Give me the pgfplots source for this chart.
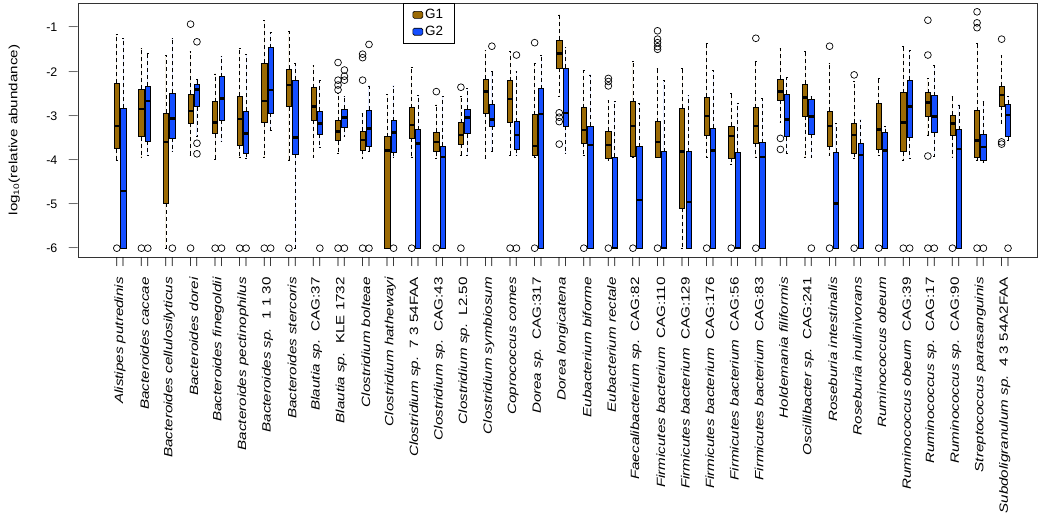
\documentclass[border=0pt]{standalone}
\usepackage{graphicx}
\usepackage{fontspec}
\setmainfont{Liberation Sans}
\usepackage{pgfplots}
\pgfplotsset{compat=1.18}
\usepgfplotslibrary{statistics}

\definecolor{gone}{RGB}{155,106,4}
\definecolor{gtwo}{RGB}{20,78,255}

% stretched name (the reference is stretched vertically), ending 20bp below the axis
\newcommand{\nm}[1]{\scalebox{1.27}[1]{#1}\hspace*{20bp}}
% y tick label followed by its tick (an em dash 9bp long)
\newcommand{\yt}[1]{#1\hspace*{11.5bp}\raisebox{2bp}{\fontsize{9}{9}\selectfont —}}

% one box: colour, position, lower whisker, lower quartile, median, upper quartile, upper whisker, outliers
\newcommand{\bxp}[8]{%
  \addplot[fill=#1, draw=black, line width=0.6bp, mark=o, mark size=3.4bp,
    mark options={solid, fill=white, draw=black, line width=0.7bp},
    boxplot prepared={draw position=#2, lower whisker=#3, lower quartile=#4,
      median=#5, upper quartile=#6, upper whisker=#7}] coordinates {#8};}

\begin{document}
\begin{tikzpicture}
\begin{axis}[
    at={(0,0)}, anchor=south west,
    width=959bp, height=254bp, scale only axis,
    clip=false,
    xmin=-0.71, xmax=38.31,
    ymin=-6.2, ymax=-0.44,
    axis line style={line width=0.8bp, black!80},
    xtick pos=left, ytick pos=left,
    major tick length=0pt, minor tick length=0pt,
    tick style={draw=none},
    % one tick under each box, set as a bar in the label
    xtick={0.87,1.87,...,36.87,1.13,2.13,...,37.13},
    xticklabel={|},
    xticklabel style={anchor=north, inner sep=0pt, font=\fontsize{9.6}{10}\selectfont},
    xticklabel shift=0pt,
    extra x ticks={1,...,37},
    extra x tick style={xticklabel style={rotate=90, anchor=east,
      font=\fontsize{12}{14}\selectfont}},
    extra x tick labels={
      \nm{\textit{Alistipes putredinis}},
      \nm{\textit{Bacteroides caccae}},
      \nm{\textit{Bacteroides cellulosilyticus}},
      \nm{\textit{Bacteroides dorei}},
      \nm{\textit{Bacteroides finegoldii}},
      \nm{\textit{Bacteroides pectinophilus}},
      \nm{\textit{Bacteroides sp.}\ \ 1 1 30},
      \nm{\textit{Bacteroides stercoris}},
      \nm{\textit{Blautia sp.}\ \ CAG:37},
      \nm{\textit{Blautia sp.}\ \ KLE 1732},
      \nm{\textit{Clostridium bolteae}},
      \nm{\textit{Clostridium hathewayi}},
      \nm{\textit{Clostridium sp.}\ \ 7 3 54FAA},
      \nm{\textit{Clostridium sp.}\ \ CAG:43},
      \nm{\textit{Clostridium sp.}\ \ L2.50},
      \nm{\textit{Clostridium symbiosum}},
      \nm{\textit{Coprococcus comes}},
      \nm{\textit{Dorea sp.}\ \ CAG:317},
      \nm{\textit{Dorea longicatena}},
      \nm{\textit{Eubacterium biforme}},
      \nm{\textit{Eubacterium rectale}},
      \nm{\textit{Faecalibacterium sp.}\ \ CAG:82},
      \nm{\textit{Firmicutes bacterium}\ \ CAG:110},
      \nm{\textit{Firmicutes bacterium}\ \ CAG:129},
      \nm{\textit{Firmicutes bacterium}\ \ CAG:176},
      \nm{\textit{Firmicutes bacterium}\ \ CAG:56},
      \nm{\textit{Firmicutes bacterium}\ \ CAG:83},
      \nm{\textit{Holdemania filiformis}},
      \nm{\textit{Oscillibacter sp.}\ \ CAG:241},
      \nm{\textit{Roseburia intestinalis}},
      \nm{\textit{Roseburia inulinivorans}},
      \nm{\textit{Ruminococcus obeum}},
      \nm{\textit{Ruminococcus obeum}\ \ CAG:39},
      \nm{\textit{Ruminococcus sp.}\ \ CAG:17},
      \nm{\textit{Ruminococcus sp.}\ \ CAG:90},
      \nm{\textit{Streptococcus parasanguinis}},
      \nm{\textit{Subdoligranulum sp.}\ \ 4 3 54A2FAA}},
    ytick={-6,-5,-4,-3,-2,-1},
    yticklabels={\yt{-6},\yt{-5},\yt{-4},\yt{-3},\yt{-2},\yt{-1}},
    yticklabel style={font=\fontsize{12.5}{14}\selectfont, anchor=east, inner sep=0pt},
    yticklabel shift=0pt,
    every axis y label/.style={at={(axis description cs:-0.0605,0.5)}, anchor=south, rotate=90, inner sep=0pt},
    ylabel={\scalebox{1.27}[1]{log\textsubscript{10}(relative abundance)}},
    label style={font=\fontsize{12}{14}\selectfont},
    boxplot/draw direction=y,
    boxplot/box extend=0.215,
    boxplot/whisker extend=0.07,
    boxplot/every whisker/.style={dash pattern=on 4bp off 3bp, line width=0.7bp},
    boxplot/every median/.style={line width=2.6bp},
    legend style={at={(axis description cs:0.339,1)}, anchor=north west,
      draw=black, line width=0.8bp, font=\fontsize{13.5}{15}\selectfont,
      inner xsep=9bp, inner ysep=4bp, row sep=2bp},
    legend cell align=left,
]
\addlegendimage{legend image code/.code={\draw[fill=gone, draw=black, line width=0.6bp, rounded corners=1.5bp] (2bp,-3.5bp) rectangle (12bp,3.5bp);}}
\addlegendentry{G1}
\addlegendimage{legend image code/.code={\draw[fill=gtwo, draw=black, line width=0.6bp, rounded corners=1.5bp] (2bp,-3.5bp) rectangle (12bp,3.5bp);}}
\addlegendentry{G2}

% 1 Alistipes putredinis
\bxp{gone}{0.87}{-4.00}{-3.74}{-3.23}{-2.26}{-1.15}{(0,-6)}
\bxp{gtwo}{1.13}{-6}{-6}{-4.70}{-2.83}{-1.24}{}
% 2 Bacteroides caccae
\bxp{gone}{1.87}{-3.93}{-3.47}{-2.84}{-2.40}{-1.47}{(0,-6)}
\bxp{gtwo}{2.13}{-3.89}{-3.58}{-2.66}{-2.32}{-1.58}{(0,-6)}
% 3 Bacteroides cellulosilyticus
\bxp{gone}{2.87}{-6}{-4.98}{-3.59}{-2.93}{-1.62}{}
\bxp{gtwo}{3.13}{-3.81}{-3.51}{-3.06}{-2.49}{-1.24}{(0,-6)}
% 4 Bacteroides dorei
\bxp{gone}{3.87}{-3.89}{-3.17}{-2.89}{-2.51}{-1.54}{(0,-6) (0,-0.92)}
\bxp{gtwo}{4.13}{-3.47}{-2.79}{-2.40}{-2.28}{-2.18}{(0,-1.32) (0,-3.62) (0,-3.86)}
% 5 Bacteroides finegoldii
\bxp{gone}{4.87}{-3.99}{-3.40}{-3.15}{-2.68}{-2.05}{(0,-6)}
\bxp{gtwo}{5.13}{-3.58}{-3.09}{-2.60}{-2.11}{-1.66}{(0,-6)}
% 6 Bacteroides pectinophilus
\bxp{gone}{5.87}{-3.93}{-3.66}{-3.07}{-2.56}{-1.47}{(0,-6)}
\bxp{gtwo}{6.13}{-3.96}{-3.85}{-3.40}{-2.90}{-1.60}{(0,-6)}
% 7 Bacteroides sp. 1 1 30
\bxp{gone}{6.87}{-3.93}{-3.15}{-2.66}{-1.81}{-0.83}{(0,-6)}
\bxp{gtwo}{7.13}{-3.32}{-2.93}{-2.41}{-1.45}{-1.11}{(0,-6)}
% 8 Bacteroides stercoris
\bxp{gone}{7.87}{-4.00}{-2.79}{-2.30}{-1.94}{-1.09}{(0,-6)}
\bxp{gtwo}{8.13}{-6}{-3.86}{-3.49}{-2.19}{-1.81}{}
% 9 Blautia sp. CAG:37
\bxp{gone}{8.87}{-3.93}{-3.09}{-2.79}{-2.36}{-1.86}{}
\bxp{gtwo}{9.13}{-3.72}{-3.42}{-3.17}{-2.89}{-2.19}{(0,-6)}
% 10 Blautia sp. KLE 1732
\bxp{gone}{9.87}{-3.85}{-3.56}{-3.36}{-3.11}{-2.49}{(0,-1.79) (0,-2.19) (0,-2.30) (0,-2.41) (0,-6)}
\bxp{gtwo}{10.13}{-3.47}{-3.27}{-3.03}{-2.85}{-2.55}{(0,-1.96) (0,-2.10) (0,-2.19) (0,-6)}
% 11 Clostridium bolteae
\bxp{gone}{10.87}{-3.96}{-3.77}{-3.55}{-3.34}{-2.94}{(0,-1.60) (0,-1.68) (0,-2.19) (0,-6)}
\bxp{gtwo}{11.13}{-3.81}{-3.70}{-3.28}{-2.87}{-2.32}{(0,-1.38) (0,-6)}
% 12 Clostridium hathewayi
\bxp{gone}{11.87}{-6}{-6}{-3.79}{-3.47}{-2.51}{}
\bxp{gtwo}{12.13}{-3.93}{-3.83}{-3.38}{-3.11}{-2.32}{(0,-6)}
% 13 Clostridium sp. 7 3 54FAA
\bxp{gone}{12.87}{-3.93}{-3.51}{-3.21}{-2.81}{-1.91}{(0,-6)}
\bxp{gtwo}{13.13}{-6}{-6}{-3.62}{-3.31}{-2.53}{}
% 14 Clostridium sp. CAG:43
\bxp{gone}{13.87}{-3.96}{-3.81}{-3.59}{-3.37}{-2.75}{(0,-2.45) (0,-6)}
\bxp{gtwo}{14.13}{-6}{-6}{-3.93}{-3.68}{-2.56}{}
% 15 Clostridium sp. L2.50
\bxp{gone}{14.87}{-3.89}{-3.64}{-3.43}{-3.15}{-2.56}{(0,-2.35) (0,-6)}
\bxp{gtwo}{15.13}{-3.89}{-3.40}{-3.03}{-2.85}{-2.38}{}
% 16 Clostridium symbiosum
\bxp{gone}{15.87}{-3.96}{-2.94}{-2.45}{-2.17}{-1.51}{}
\bxp{gtwo}{16.13}{-3.81}{-3.24}{-3.08}{-2.74}{-1.99}{(0,-1.42)}
% 17 Coprococcus comes
\bxp{gone}{16.87}{-3.89}{-3.15}{-2.62}{-2.20}{-1.54}{(0,-6)}
\bxp{gtwo}{17.13}{-3.89}{-3.76}{-3.43}{-3.13}{-2.00}{(0,-1.62) (0,-6)}
% 18 Dorea sp. CAG:317
\bxp{gone}{17.87}{-3.95}{-3.89}{-3.68}{-2.97}{-1.81}{(0,-1.34) (0,-6)}
\bxp{gtwo}{18.13}{-6}{-6}{-2.96}{-2.38}{-1.62}{}
% 19 Dorea longicatena
\bxp{gone}{18.87}{-2.55}{-1.92}{-1.58}{-1.28}{-0.71}{(0,-2.93) (0,-3.03) (0,-3.13) (0,-3.64)}
\bxp{gtwo}{19.13}{-3.85}{-3.24}{-2.93}{-1.92}{-1.45}{}
% 20 Eubacterium biforme
\bxp{gone}{19.87}{-3.90}{-3.62}{-3.32}{-2.81}{-1.96}{(0,-6)}
\bxp{gtwo}{20.13}{-6}{-6}{-3.66}{-3.24}{-2.07}{}
% 21 Eubacterium rectale
\bxp{gone}{20.87}{-4.00}{-3.96}{-3.66}{-3.34}{-2.64}{(0,-2.15) (0,-2.22) (0,-2.32) (0,-6)}
\bxp{gtwo}{21.13}{-6}{-6}{-6}{-3.94}{-2.68}{}
% 22 Faecalibacterium sp. CAG:82
\bxp{gone}{21.87}{-3.95}{-3.91}{-3.23}{-2.68}{-1.77}{(0,-6)}
\bxp{gtwo}{22.13}{-6}{-6}{-4.91}{-3.70}{-2.72}{}
% 23 Firmicutes bacterium CAG:110
\bxp{gone}{22.87}{-3.95}{-3.93}{-3.59}{-3.13}{-1.92}{(0,-1.07) (0,-1.26) (0,-1.34) (0,-1.43) (0,-1.49) (0,-6)}
\bxp{gtwo}{23.13}{-6}{-6}{-6}{-3.81}{-2.19}{}
% 24 Firmicutes bacterium CAG:129
\bxp{gone}{23.87}{-6}{-5.10}{-3.81}{-2.83}{-1.92}{}
\bxp{gtwo}{24.13}{-6}{-6}{-4.95}{-3.81}{-2.53}{}
% 25 Firmicutes bacterium CAG:176
\bxp{gone}{24.87}{-3.93}{-3.43}{-3.00}{-2.58}{-1.36}{(0,-6)}
\bxp{gtwo}{25.13}{-6}{-6}{-3.79}{-3.28}{-1.96}{}
% 26 Firmicutes bacterium CAG:56
\bxp{gone}{25.87}{-4.11}{-3.96}{-3.46}{-3.23}{-2.49}{(0,-6)}
\bxp{gtwo}{26.13}{-6}{-6}{-6}{-3.83}{-2.72}{}
% 27 Firmicutes bacterium CAG:83
\bxp{gone}{26.87}{-3.93}{-3.62}{-3.23}{-2.81}{-1.77}{(0,-1.24) (0,-6)}
\bxp{gtwo}{27.13}{-6}{-6}{-3.93}{-3.61}{-2.60}{}
% 28 Holdemania filiformis
\bxp{gone}{27.87}{-3.15}{-2.64}{-2.45}{-2.17}{-1.47}{(0,-3.51) (0,-3.76)}
\bxp{gtwo}{28.13}{-3.85}{-3.47}{-3.08}{-2.50}{-2.13}{}
% 29 Oscillibacter sp. CAG:241
\bxp{gone}{28.87}{-3.93}{-3.00}{-2.58}{-2.28}{-1.54}{}
\bxp{gtwo}{29.13}{-3.93}{-3.41}{-3.02}{-2.62}{-2.55}{(0,-6)}
% 30 Roseburia intestinalis
\bxp{gone}{29.87}{-3.89}{-3.68}{-3.23}{-2.89}{-1.81}{(0,-1.42) (0,-6)}
\bxp{gtwo}{30.13}{-6}{-6}{-4.98}{-3.83}{-3.17}{}
% 31 Roseburia inulinivorans
\bxp{gone}{30.87}{-3.96}{-3.85}{-3.43}{-3.17}{-2.22}{(0,-2.07) (0,-6)}
\bxp{gtwo}{31.13}{-6}{-6}{-3.89}{-3.62}{-3.09}{}
% 32 Ruminococcus obeum
\bxp{gone}{31.87}{-3.90}{-3.75}{-3.31}{-2.72}{-2.15}{(0,-6)}
\bxp{gtwo}{32.13}{-6}{-6}{-3.79}{-3.38}{-3.23}{}
% 33 Ruminococcus obeum CAG:39
\bxp{gone}{32.87}{-4.00}{-3.81}{-3.15}{-2.47}{-1.43}{(0,-6)}
\bxp{gtwo}{33.13}{-3.96}{-3.49}{-2.79}{-2.19}{-1.51}{(0,-6)}
% 34 Ruminococcus sp. CAG:17
\bxp{gone}{33.87}{-3.43}{-3.02}{-2.69}{-2.47}{-2.15}{(0,-0.83) (0,-1.62) (0,-3.91) (0,-6)}
\bxp{gtwo}{34.13}{-3.91}{-3.38}{-3.02}{-2.54}{-1.85}{(0,-6)}
% 35 Ruminococcus sp. CAG:90
\bxp{gone}{34.87}{-3.93}{-3.45}{-3.17}{-2.98}{-2.56}{(0,-6)}
\bxp{gtwo}{35.13}{-6}{-6}{-3.75}{-3.31}{-2.75}{}
% 36 Streptococcus parasanguinis
\bxp{gone}{35.87}{-4.00}{-3.93}{-3.56}{-2.88}{-1.36}{(0,-0.64) (0,-0.89) (0,-1.00) (0,-6)}
\bxp{gtwo}{36.13}{-4.05}{-4.00}{-3.71}{-3.41}{-2.68}{(0,-6)}
% 37 Subdoligranulum sp. 4 3 54A2FAA
\bxp{gone}{36.87}{-3.17}{-2.78}{-2.53}{-2.32}{-1.62}{(0,-1.26) (0,-3.59) (0,-3.64)}
\bxp{gtwo}{37.13}{-3.55}{-3.46}{-2.98}{-2.73}{-2.56}{(0,-6)}
\end{axis}
\path (-78bp,-263bp) (972bp,257bp);
\end{tikzpicture}
\end{document}
